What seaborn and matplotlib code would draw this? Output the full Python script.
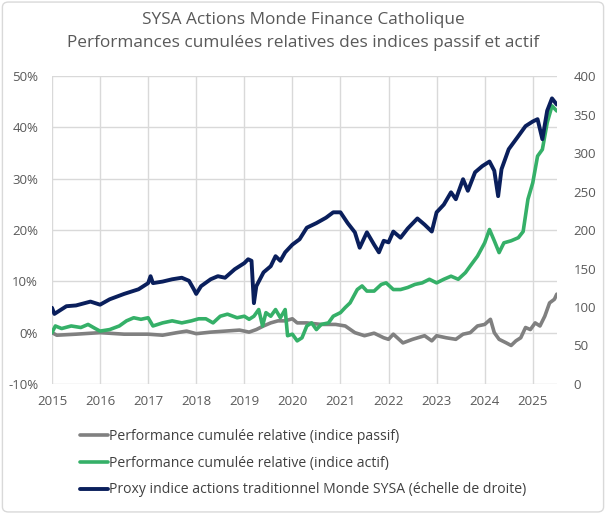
import pandas as pd
import numpy as np
import matplotlib
matplotlib.use("Agg")
import matplotlib.pyplot as plt
import seaborn as sns
from matplotlib.patches import FancyBboxPatch
from matplotlib.ticker import FuncFormatter

# Values (decimal years)
passif_t = [2015.0, 2015.1, 2015.5, 2016.0, 2016.5, 2017.0, 2017.3, 2017.6, 2017.8, 2018.0,
            2018.3, 2018.6, 2018.9, 2019.1, 2019.25, 2019.4, 2019.55, 2019.7, 2019.85, 2020.0,
            2020.1, 2020.3, 2020.6, 2020.9, 2021.1, 2021.3, 2021.5, 2021.7, 2021.9, 2022.0,
            2022.1, 2022.3, 2022.5, 2022.75, 2022.9, 2023.0, 2023.2, 2023.4, 2023.55, 2023.7,
            2023.85, 2024.0, 2024.12, 2024.2, 2024.3, 2024.45, 2024.55, 2024.65, 2024.75, 2024.85,
            2024.95, 2025.05, 2025.15, 2025.25, 2025.35, 2025.45, 2025.5]
passif_v = [0.0, -0.5, -0.3, 0.0, -0.3, -0.3, -0.5, 0.0, 0.3, -0.2,
            0.1, 0.3, 0.5, 0.1, 0.6, 1.3, 1.9, 2.3, 2.3, 2.7,
            1.9, 1.9, 1.6, 1.6, 1.3, 0.0, -0.6, -0.1, -1.0, -1.3,
            -0.3, -2.0, -1.3, -0.6, -1.6, -0.6, -1.0, -1.3, -0.3, 0.0,
            1.3, 1.6, 2.6, 0.0, -1.3, -2.0, -2.5, -1.6, -1.0, 1.0,
            0.6, 1.9, 1.3, 3.2, 5.8, 6.5, 7.5]

actif_t = [2015.0, 2015.07, 2015.2, 2015.4, 2015.6, 2015.75, 2015.9, 2016.0, 2016.2, 2016.4,
           2016.55, 2016.7, 2016.85, 2017.0, 2017.1, 2017.3, 2017.5, 2017.7, 2017.9, 2018.05,
           2018.2, 2018.35, 2018.5, 2018.65, 2018.85, 2019.0, 2019.1, 2019.2, 2019.3, 2019.38,
           2019.45, 2019.55, 2019.65, 2019.75, 2019.85, 2019.9, 2020.0, 2020.1, 2020.2, 2020.3,
           2020.4, 2020.5, 2020.6, 2020.75, 2020.85, 2021.0, 2021.1, 2021.2, 2021.35, 2021.45,
           2021.55, 2021.7, 2021.85, 2021.95, 2022.1, 2022.25, 2022.4, 2022.55, 2022.7, 2022.85,
           2023.0, 2023.15, 2023.3, 2023.45, 2023.6, 2023.7, 2023.85, 2024.0, 2024.1, 2024.2,
           2024.3, 2024.4, 2024.55, 2024.7, 2024.8, 2024.9, 2025.0, 2025.1, 2025.2, 2025.3,
           2025.4, 2025.5]
actif_v = [0.0, 1.3, 0.8, 1.3, 1.0, 1.6, 0.8, 0.3, 0.6, 1.3,
           2.3, 2.9, 2.6, 2.9, 1.3, 1.9, 2.3, 1.9, 2.3, 2.7,
           2.7, 1.9, 3.2, 3.6, 2.9, 3.2, 2.6, 3.2, 4.5, 1.3,
           3.9, 3.2, 4.5, 2.9, 4.5, -0.6, -0.3, -1.6, -1.0, 1.3,
           1.9, 0.6, 1.6, 1.9, 3.2, 3.9, 4.9, 5.8, 8.4, 9.1,
           8.1, 8.1, 9.4, 9.7, 8.4, 8.4, 8.8, 9.4, 9.7, 10.4,
           9.7, 10.4, 11.0, 10.4, 11.7, 13.0, 14.9, 17.5, 20.1, 17.9,
           15.6, 17.5, 17.9, 18.5, 19.7, 26.0, 29.2, 34.4, 35.7, 40.9,
           44.2, 43.2]

proxy_t = [2015.0, 2015.05, 2015.3, 2015.5, 2015.8, 2016.0, 2016.2, 2016.5, 2016.8, 2017.0,
           2017.05, 2017.1, 2017.3, 2017.5, 2017.7, 2017.85, 2017.95, 2018.0, 2018.1, 2018.3,
           2018.45, 2018.6, 2018.8, 2019.0, 2019.08, 2019.15, 2019.2, 2019.25, 2019.4, 2019.55,
           2019.65, 2019.75, 2019.85, 2020.0, 2020.15, 2020.3, 2020.5, 2020.7, 2020.85, 2021.0,
           2021.15, 2021.3, 2021.4, 2021.55, 2021.7, 2021.8, 2021.9, 2022.0, 2022.1, 2022.25,
           2022.4, 2022.6, 2022.75, 2022.9, 2023.0, 2023.15, 2023.3, 2023.4, 2023.55, 2023.65,
           2023.8, 2023.95, 2024.1, 2024.2, 2024.28, 2024.35, 2024.5, 2024.7, 2024.85, 2025.0,
           2025.1, 2025.2, 2025.3, 2025.4, 2025.5]
proxy_v = [99, 91, 101, 102, 107, 103, 110, 117, 123, 131,
           140, 131, 133, 136, 138, 134, 123, 117, 127, 136,
           140, 138, 149, 157, 162, 160, 105, 127, 145, 153,
           166, 160, 171, 181, 188, 203, 209, 216, 223, 223,
           209, 197, 177, 197, 181, 171, 186, 184, 198, 190,
           202, 215, 207, 198, 223, 233, 249, 240, 266, 251,
           275, 283, 289, 277, 244, 279, 305, 322, 335, 341,
           344, 318, 355, 371, 363]

years = list(range(2015, 2026))
labels = ["Performance cumulée relative (indice passif)",
          "Performance cumulée relative (indice actif)",
          "Proxy indice actions traditionnel Monde SYSA (échelle de droite)"]

passif = pd.DataFrame({"t": passif_t, "v": np.array(passif_v) / 100})
actif = pd.DataFrame({"t": actif_t, "v": np.array(actif_v) / 100})
proxy = pd.DataFrame({"t": proxy_t, "v": proxy_v})

sns.set_style("white")
plt.rcParams['font.family'] = ['Open Sans', 'DejaVu Sans']

c_gray = "#808080"
c_green = "#35b068"
c_navy = "#0a1f5c"
c_text = "#595959"

fig = plt.figure(figsize=(6.06, 5.14), dpi=100)
ax = fig.add_axes([0.0858, 0.253, 0.833, 0.599])
ax2 = ax.twinx()

sns.lineplot(data=passif, x="t", y="v", ax=ax, color=c_gray, linewidth=2.6, label=labels[0], legend=False)
sns.lineplot(data=actif, x="t", y="v", ax=ax, color=c_green, linewidth=2.6, label=labels[1], legend=False)
sns.lineplot(data=proxy, x="t", y="v", ax=ax2, color=c_navy, linewidth=2.8, label=labels[2], legend=False)

ax.set_xlim(2015, 2025.5)
ax.set_ylim(-0.10, 0.50)
ax2.set_ylim(0, 400)
ax.set_xticks(years)
ax.set_yticks(np.arange(-0.10, 0.51, 0.10))
ax2.set_yticks(range(0, 401, 50))
ax.yaxis.set_major_formatter(FuncFormatter(lambda v, p: f"{v * 100:.0f}%"))
ax.grid(True, color="#d9d9d9", linewidth=1)
ax.set_xlabel("")
ax.set_ylabel("")
ax2.set_ylabel("")
for a in (ax, ax2):
    for s in a.spines.values():
        s.set_visible(False)
    a.tick_params(length=0, labelsize=9.5, labelcolor=c_text)
ax.tick_params(axis="x", pad=8)
ax.tick_params(axis="y", pad=10)
ax2.tick_params(axis="y", pad=12)

fig.text(0.5, 0.962, "SYSA Actions Monde Finance Catholique", ha="center", va="center",
         fontsize=12.4, color=c_text)
fig.text(0.5, 0.916, "Performances cumulées relatives des indices passif et actif", ha="center",
         va="center", fontsize=12.4, color=c_text)

h1, l1 = ax.get_legend_handles_labels()
h2, l2 = ax2.get_legend_handles_labels()
fig.legend(h1 + h2, l1 + l2, loc="upper left", bbox_to_anchor=(0.122, 0.177), frameon=False,
           fontsize=10.1, labelcolor="#404040", handlelength=2.0, handletextpad=0.1,
           labelspacing=0.85, borderaxespad=0)

fig.patches.append(FancyBboxPatch((0.004, 0.004), 0.992, 0.992, boxstyle="round,pad=0,rounding_size=0.01",
                                  transform=fig.transFigure, facecolor="none", edgecolor="#d9d9d9",
                                  linewidth=1))

fig.savefig("out.png", dpi=100)
